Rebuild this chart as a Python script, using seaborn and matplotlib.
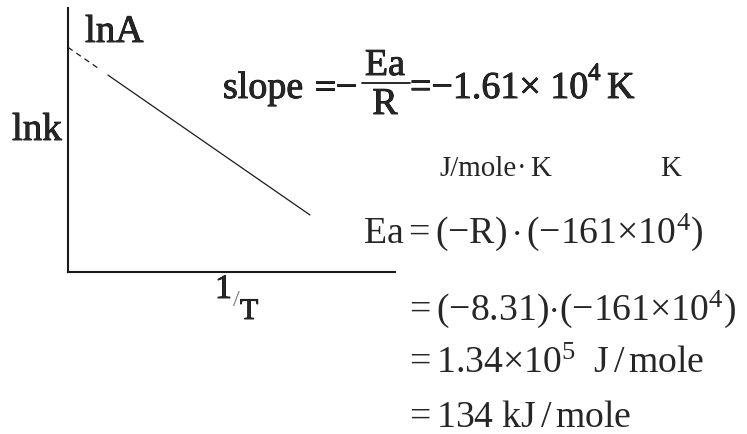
import matplotlib
matplotlib.use("Agg")
import matplotlib.pyplot as plt
import matplotlib.patheffects as pe
from matplotlib.lines import Line2D
import pandas as pd
import seaborn as sns

# Arrhenius plot: ln k against 1/T (arbitrary plotting units)
inv_T_fit = [1.22, 7.40]
ln_k_fit = [7.46, 2.16]
inv_T_extrap = [0.0, 0.98]
ln_k_extrap = [8.51, 7.67]

x_label = "1"
x_label_den = "T"
y_label = "lnk"
intercept_label = "lnA"
slope_value = "1.61"
slope_exp = "4"
units_line = ["J/mole", "K", "K"]
steps = [
    r"$\mathrm{Ea}{=}(-\mathrm{R})\,{\cdot}\,(-161{\times}10^{4})$",
    r"${=}(-8.31){\cdot}(-161{\times}10^{4})$",
    r"${=}1.34{\times}10^{5}\ \ \mathrm{J\,/\,mole}$",
    r"${=}134\ \mathrm{kJ\,/\,mole}$",
]

W, H = 747, 434
sns.set_theme(style="white")
plt.rcParams["font.family"] = ["Liberation Serif", "DejaVu Serif"]
plt.rcParams["mathtext.fontset"] = "custom"
plt.rcParams["mathtext.rm"] = "Liberation Serif"
plt.rcParams["mathtext.it"] = "Liberation Serif:italic"
plt.rcParams["mathtext.bf"] = "Liberation Serif:bold"

fig = plt.figure(figsize=(W / 100, H / 100), dpi=100)
fig.patch.set_facecolor("white")


def fx(x):
    return x / W


def fy(y):
    return 1 - y / H


def pt(px):
    return px * 0.72


ax = fig.add_axes([fx(68), fy(272), (395 - 68) / W, (272 - 8) / H])
ax.set_facecolor("white")

fit = pd.DataFrame({"inv_T": inv_T_fit, "ln_k": ln_k_fit})
ext = pd.DataFrame({"inv_T": inv_T_extrap, "ln_k": ln_k_extrap})
sns.lineplot(data=fit, x="inv_T", y="ln_k", ax=ax, color="#1a1a1a",
             linewidth=0.9, sort=False)
sns.lineplot(data=ext, x="inv_T", y="ln_k", ax=ax, color="#1a1a1a",
             linewidth=0.9, sort=False, linestyle=(0, (4.5, 3.5)))

ax.set_xlim(0, 10)
ax.set_ylim(0, 10)
ax.set_xticks([])
ax.set_yticks([])
ax.set_xlabel("")
ax.set_ylabel("")
sns.despine(ax=ax)
for side in ("left", "bottom"):
    ax.spines[side].set_linewidth(1.5)
    ax.spines[side].set_color("#1a1a1a")

heavy = [pe.withStroke(linewidth=0.6, foreground="black")]

# axis annotations
fig.text(fx(85), fy(42), intercept_label, fontsize=pt(39), va="baseline",
         ha="left", path_effects=heavy)
fig.text(fx(12), fy(140), y_label, fontsize=pt(39), va="baseline",
         ha="left", path_effects=heavy)
fig.text(fx(215), fy(298), x_label, fontsize=pt(34), va="baseline",
         ha="left", path_effects=heavy)
fig.text(fx(233), fy(306), "/", fontsize=pt(24), va="baseline",
         ha="left", color="#777777")
fig.text(fx(240), fy(319), x_label_den, fontsize=pt(30), va="baseline",
         ha="left", path_effects=heavy)

# slope = -Ea/R = -1.61 x 10^4 K
fs_slope = pt(38)
fig.text(fx(223), fy(98), "slope", fontsize=fs_slope, va="baseline",
         ha="left", path_effects=heavy)
fig.text(fx(314), fy(98), "=\u2212", fontsize=fs_slope, va="baseline",
         ha="left", path_effects=heavy)
fig.text(fx(385), fy(75), "Ea", fontsize=fs_slope, va="baseline",
         ha="center", path_effects=heavy)
fig.add_artist(Line2D([fx(362), fx(410)], [fy(83), fy(83)],
                      color="#1a1a1a", linewidth=1.3))
fig.text(fx(385), fy(114), "R", fontsize=fs_slope, va="baseline",
         ha="center", path_effects=heavy)
fig.text(fx(410), fy(98), "=\u2212" + slope_value + "\u00d7 10",
         fontsize=fs_slope, va="baseline", ha="left", path_effects=heavy)
fig.text(fx(588), fy(80), slope_exp, fontsize=pt(25), va="baseline",
         ha="left", path_effects=heavy)
fig.text(fx(607), fy(98), "K", fontsize=fs_slope, va="baseline",
         ha="left", path_effects=heavy)

# units row
fs_units = pt(29)
fig.text(fx(439), fy(176), units_line[0], fontsize=fs_units,
         va="baseline", ha="left")
fig.text(fx(522), fy(176), "\u00b7", fontsize=fs_units, va="baseline",
         ha="center")
fig.text(fx(530), fy(176), units_line[1], fontsize=fs_units,
         va="baseline", ha="left")
fig.text(fx(660), fy(176), units_line[2], fontsize=fs_units,
         va="baseline", ha="left")

# worked calculation
fs_eq = pt(37.8)
fig.text(fx(363), fy(243), steps[0], fontsize=fs_eq, va="baseline", ha="left")
fig.text(fx(404), fy(320), steps[1], fontsize=fs_eq, va="baseline", ha="left")
fig.text(fx(404), fy(373), steps[2], fontsize=fs_eq, va="baseline", ha="left")
fig.text(fx(404), fy(427), steps[3], fontsize=fs_eq, va="baseline", ha="left")

fig.savefig("out.png", dpi=100, facecolor="white")
